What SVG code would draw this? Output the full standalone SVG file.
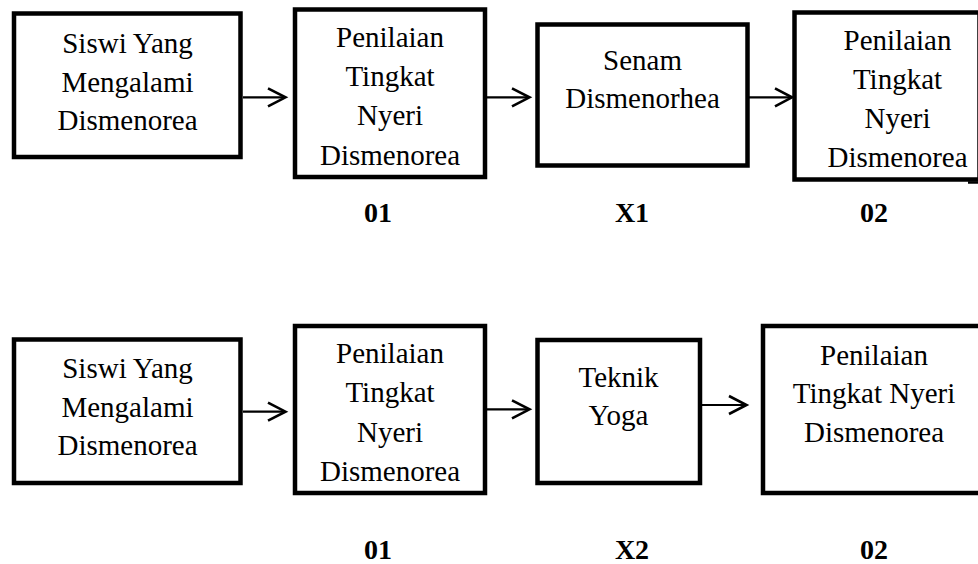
<svg xmlns="http://www.w3.org/2000/svg" width="978" height="564" viewBox="0 0 978 564">
<style>
  .box { fill: #ffffff; stroke: #000000; stroke-width: 4.5; }
  .t { font-family: "Liberation Serif", "Times New Roman", serif; font-size: 29px; fill: #000; text-anchor: middle; }
  .lbl { font-family: "Liberation Serif", "Times New Roman", serif; font-size: 28px; font-weight: bold; fill: #000; text-anchor: middle; }
  .ln { stroke: #000; stroke-width: 2.2; fill: none; }
  .hd { stroke: #000; stroke-width: 2.6; fill: none; stroke-linejoin: miter; }
</style>
<rect width="978" height="564" fill="#ffffff"/>

<g id="connectors">
  <line class="ln" x1="243" y1="97.3" x2="285" y2="97.3"/>
  <polyline class="hd" points="268,88.3 285.5,97.3 268,106.3"/>
  <line class="ln" x1="487" y1="97.3" x2="529" y2="97.3"/>
  <polyline class="hd" points="512,88.3 529.5,97.3 512,106.3"/>
  <line class="ln" x1="749" y1="97.3" x2="791" y2="97.3"/>
  <polyline class="hd" points="775,88.3 792,97.3 775,106.3"/>

  <line class="ln" x1="243" y1="411.7" x2="285" y2="411.7"/>
  <polyline class="hd" points="268,402.7 285.5,411.7 268,420.7"/>
  <line class="ln" x1="487" y1="409.3" x2="529" y2="409.3"/>
  <polyline class="hd" points="512,400.3 529.5,409.3 512,418.3"/>
  <line class="ln" x1="702" y1="405" x2="746" y2="405"/>
  <polyline class="hd" points="729,396 746.5,405 729,414"/>
</g>

<g id="top-siswi">
  <rect class="box" x="14" y="13.5" width="226.5" height="143.5"/>
  <text class="t" x="127.5" y="53">Siswi Yang</text>
  <text class="t" x="127.5" y="91.5">Mengalami</text>
  <text class="t" x="127.5" y="130">Dismenorea</text>
</g>

<g id="top-pre">
  <rect class="box" x="295" y="9.5" width="190" height="167.5"/>
  <text class="t" x="390" y="46.7">Penilaian</text>
  <text class="t" x="390" y="86">Tingkat</text>
  <text class="t" x="390" y="125.3">Nyeri</text>
  <text class="t" x="390" y="164.6">Dismenorea</text>
</g>

<g id="top-senam">
  <rect class="box" x="537.5" y="24.5" width="210" height="141"/>
  <text class="t" x="642.5" y="70">Senam</text>
  <text class="t" x="642.5" y="108">Dismenorhea</text>
</g>

<g id="top-post">
  <rect class="box" x="794.5" y="12.5" width="185" height="167"/>
  <line x1="968" y1="182.5" x2="978" y2="182.5" stroke="#000" stroke-width="2.5"/>
  <text class="t" x="897.5" y="50">Penilaian</text>
  <text class="t" x="897.5" y="89">Tingkat</text>
  <text class="t" x="897.5" y="128">Nyeri</text>
  <text class="t" x="897.5" y="167">Dismenorea</text>
</g>

<g id="top-labels">
  <text class="lbl" x="378" y="222">01</text>
  <text class="lbl" x="632" y="222">X1</text>
  <text class="lbl" x="874" y="222">02</text>
</g>

<g id="bot-siswi">
  <rect class="box" x="14" y="339.5" width="226.5" height="143.5"/>
  <text class="t" x="127.5" y="378.3">Siswi Yang</text>
  <text class="t" x="127.5" y="416.7">Mengalami</text>
  <text class="t" x="127.5" y="454.5">Dismenorea</text>
</g>

<g id="bot-pre">
  <rect class="box" x="295" y="326" width="190" height="167"/>
  <text class="t" x="390" y="363">Penilaian</text>
  <text class="t" x="390" y="402">Tingkat</text>
  <text class="t" x="390" y="441.5">Nyeri</text>
  <text class="t" x="390" y="480.5">Dismenorea</text>
</g>

<g id="bot-yoga">
  <rect class="box" x="537.5" y="340" width="162.5" height="143"/>
  <text class="t" x="618.5" y="386.7">Teknik</text>
  <text class="t" x="618.5" y="425">Yoga</text>
</g>

<g id="bot-post">
  <rect class="box" x="763" y="326" width="230" height="167"/>
  <text class="t" x="874" y="365">Penilaian</text>
  <text class="t" x="874" y="403.3">Tingkat Nyeri</text>
  <text class="t" x="874" y="441.7">Dismenorea</text>
</g>

<g id="bottom-labels">
  <text class="lbl" x="378" y="559">01</text>
  <text class="lbl" x="632" y="559">X2</text>
  <text class="lbl" x="874" y="559">02</text>
</g>
</svg>
